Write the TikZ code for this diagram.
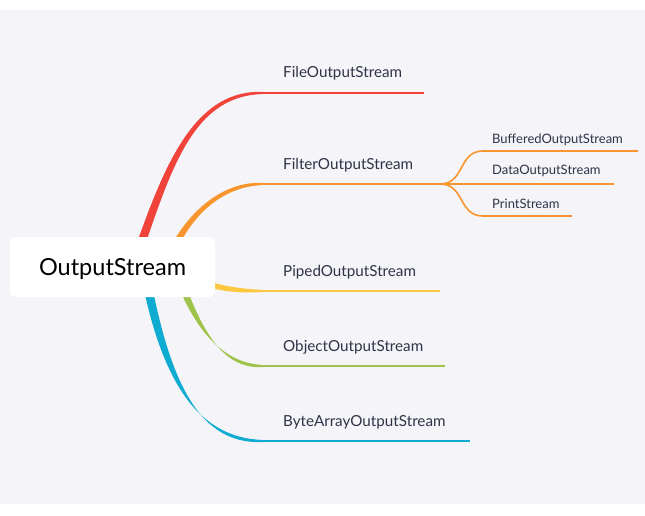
\documentclass[tikz,border=0pt]{standalone}
\usepackage{fontspec}
\setmainfont{Lato}
\definecolor{bggray}{HTML}{F5F4F9}
\definecolor{cred}{HTML}{F0433A}
\definecolor{corange}{HTML}{F8952E}
\definecolor{cyellow}{HTML}{FCC83F}
\definecolor{cgreen}{HTML}{9FC34A}
\definecolor{cblue}{HTML}{10ABD0}
\definecolor{ctext}{HTML}{2E3446}
\tikzset{
  lbl/.style={anchor=base west, inner sep=0pt, text=ctext, font=\fontsize{15.2}{18}\selectfont},
  sublbl/.style={anchor=base west, inner sep=0pt, text=ctext, font=\fontsize{13}{15}\selectfont},
  uline/.style={line width=2pt},
  subline/.style={line width=1.6pt, corange},
  rootbox/.style={fill=white, rounded corners=6pt, minimum width=205pt, minimum height=60pt, inner sep=0pt,
     text height=16pt, text depth=0pt, font=\fontsize{23.5}{27}\selectfont, text=black}
}
% tapered branch: #1 colour, #2 start, #3 c1, #4 c2, #5 end, #6 x-offset, #7 y-offset at start
\newcommand{\taper}[7]{%
  \fill[#1] ($(#2)+(-#6,-#7)$) .. controls ($(#3)+(-#6,-#7)$) and ($(#4)+(0,-3.2)$) .. ($(#5)+(0,-1.1)$)
    -- ($(#5)+(0,1.1)$) .. controls ($(#4)+(0,3.2)$) and ($(#3)+(#6,#7)$) .. ($(#2)+(#6,#7)$) -- cycle;}
\usetikzlibrary{calc}
\begin{document}
\begin{tikzpicture}[x=1pt,y=-1pt]
\useasboundingbox (0,0) rectangle (645,516);
\fill[white] (0,0) rectangle (645,516);
\fill[bggray] (0,10) rectangle (645,504);

% branch coordinates
\coordinate (s1) at (133,267); \coordinate (e1) at (262,93);
\coordinate (s2) at (166,267); \coordinate (e2) at (262,184);
\coordinate (s3) at (175,267); \coordinate (e3) at (262,291);
\coordinate (s4) at (175,267); \coordinate (e4) at (262,366);
\coordinate (s5) at (144,267); \coordinate (e5) at (262,441);
\coordinate (f1) at (424,93);
\coordinate (f2) at (440,184);
\coordinate (f3) at (440,291);
\coordinate (f4) at (445,366);
\coordinate (f5) at (470,441);

\taper{cred}{s1}{165,175}{190,93}{e1}{4.5}{0}
\taper{corange}{s2}{180,225}{215,184}{e2}{4}{0}
\taper{cyellow}{s3}{200,285}{225,291}{e3}{0}{3}
\taper{cgreen}{s4}{195,325}{220,366}{e4}{4}{0}
\taper{cblue}{s5}{165,385}{200,441}{e5}{4.5}{0}

\draw[uline,cred] (e1) -- (f1);
\draw[uline,corange] (e2) -- (f2);
\draw[uline,cyellow] (e3) -- (f3);
\draw[uline,cgreen] (e4) -- (f4);
\draw[uline,cblue] (e5) -- (f5);

% sub-branches of FilterOutputStream
\coordinate (g1) at (483,151); \coordinate (h1) at (638,151);
\coordinate (g2) at (483,184); \coordinate (h2) at (614,184);
\coordinate (g3) at (483,216); \coordinate (h3) at (572,216);
\draw[subline] (f2) .. controls (465,184) and (458,151) .. (g1) -- (h1);
\draw[subline] (f2) -- (g2) -- (h2);
\draw[subline] (f2) .. controls (465,184) and (458,216) .. (g3) -- (h3);

% root
\node[rootbox] (root) at (112.5,267) {OutputStream};

% labels
\node[lbl] (n1) at (283,78) {FileOutputStream};
\node[lbl] (n2) at (283,169) {FilterOutputStream};
\node[lbl] (n3) at (283,276) {PipedOutputStream};
\node[lbl] (n4) at (283,351) {ObjectOutputStream};
\node[lbl] (n5) at (283,426) {ByteArrayOutputStream};
\node[sublbl] (m1) at (492,143) {BufferedOutputStream};
\node[sublbl] (m2) at (492,175) {DataOutputStream};
\node[sublbl] (m3) at (492,208) {PrintStream};
\end{tikzpicture}
\end{document}
